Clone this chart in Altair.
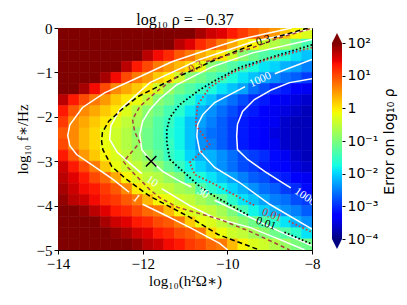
import altair as alt
import pandas as pd

# ---------------- data ----------------
X_CENTERS = [-13.875, -13.625, -13.375, -13.125, -12.875, -12.625, -12.375, -12.125,
             -11.875, -11.625, -11.375, -11.125, -10.875, -10.625, -10.375, -10.125,
             -9.875, -9.625, -9.375, -9.125, -8.875, -8.625, -8.375, -8.125]
Y_CENTERS = [-0.125, -0.375, -0.625, -0.875, -1.125, -1.375, -1.625, -1.875, -2.125, -2.375,
             -2.625, -2.875, -3.125, -3.375, -3.625, -3.875, -4.125, -4.375, -4.625, -4.875]
CELL = 0.25

# log10 of the error on log10 rho, one row per Y_CENTERS entry
LOG_ERR = [
    [2.4, 2.4, 2.4, 2.4, 2.4, 2.4, 2.4, 2.4, 2.4, 2.4, 2.4, 2.3, 2.0, 1.8, 1.6, 1.5, 1.3, 1.1, 0.9, 0.7, 0.5, 0.2, -0.1, -0.3],
    [2.4, 2.4, 2.4, 2.4, 2.4, 2.4, 2.4, 2.4, 2.4, 2.2, 2.0, 1.7, 1.5, 1.2, 1.0, 0.7, 0.4, 0.1, -0.1, -0.4, -0.6, -0.8, -1.1, -1.4],
    [2.4, 2.4, 2.4, 2.4, 2.4, 2.4, 2.3, 2.0, 1.7, 1.4, 1.2, 0.9, 0.7, 0.4, 0.2, 0.0, -0.4, -0.9, -1.1, -1.3, -1.5, -1.7, -1.9, -2.1],
    [2.4, 2.4, 2.4, 2.4, 2.3, 2.0, 1.7, 1.3, 1.0, 0.7, 0.5, 0.3, 0.1, -0.2, -0.9, -1.1, -1.3, -1.5, -1.7, -1.9, -2.0, -2.2, -2.3, -2.5],
    [2.4, 2.4, 2.3, 2.1, 1.8, 1.4, 1.0, 0.7, 0.5, 0.2, 0.0, -0.4, -0.9, -1.1, -1.3, -1.5, -1.7, -1.9, -2.1, -2.3, -2.4, -2.6, -2.7, -2.9],
    [2.4, 2.1, 1.8, 1.4, 1.0, 0.6, 0.4, 0.2, 0.0, -0.4, -0.8, -1.1, -1.3, -1.5, -1.7, -1.9, -2.1, -2.3, -2.6, -2.8, -3.0, -3.1, -3.3, -3.4],
    [1.7, 1.3, 1.0, 0.7, 0.5, 0.2, 0.0, -0.2, -0.5, -0.9, -1.1, -1.4, -1.6, -1.9, -2.1, -2.4, -2.6, -2.8, -3.0, -3.1, -3.3, -3.4, -3.5, -3.6],
    [1.3, 0.9, 0.6, 0.4, 0.2, 0.0, -0.3, -0.6, -0.9, -1.1, -1.4, -1.6, -1.9, -2.2, -2.4, -2.6, -2.8, -3.0, -3.1, -3.3, -3.4, -3.5, -3.6, -3.7],
    [1.1, 0.6, 0.4, 0.2, 0.0, -0.3, -0.5, -0.7, -1.0, -1.3, -1.5, -1.8, -2.1, -2.3, -2.5, -2.7, -2.9, -3.1, -3.2, -3.3, -3.4, -3.6, -3.7, -3.7],
    [0.9, 0.6, 0.3, 0.1, -0.2, -0.4, -0.6, -0.9, -1.1, -1.3, -1.6, -1.8, -2.1, -2.4, -2.6, -2.7, -2.9, -3.1, -3.2, -3.3, -3.5, -3.6, -3.7, -3.7],
    [1.0, 0.6, 0.3, 0.1, -0.2, -0.4, -0.6, -0.8, -1.1, -1.3, -1.5, -1.8, -2.1, -2.4, -2.5, -2.7, -2.9, -3.1, -3.2, -3.3, -3.4, -3.6, -3.7, -3.7],
    [1.3, 0.9, 0.5, 0.2, -0.1, -0.3, -0.5, -0.7, -0.9, -1.2, -1.5, -1.7, -2.0, -2.2, -2.2, -2.4, -2.6, -2.8, -2.9, -3.0, -3.2, -3.4, -3.6, -3.7],
    [1.6, 1.3, 1.0, 0.7, 0.2, -0.2, -0.4, -0.5, -0.7, -0.9, -1.2, -1.5, -1.8, -2.0, -2.2, -2.4, -2.6, -2.8, -2.9, -3.1, -3.2, -3.3, -3.5, -3.6],
    [1.7, 1.5, 1.3, 1.0, 0.8, 0.4, -0.1, -0.3, -0.5, -0.6, -0.8, -1.0, -1.5, -1.7, -1.9, -2.1, -2.3, -2.5, -2.7, -2.8, -3.0, -3.1, -3.3, -3.4],
    [1.8, 1.6, 1.4, 1.3, 1.1, 0.9, 0.6, 0.0, -0.2, -0.4, -0.5, -0.7, -0.8, -1.3, -1.6, -1.8, -2.0, -2.2, -2.4, -2.6, -2.7, -2.9, -3.0, -3.2],
    [1.9, 1.7, 1.6, 1.4, 1.2, 1.1, 0.9, 0.7, 0.3, -0.1, -0.2, -0.4, -0.5, -0.7, -0.9, -1.2, -1.6, -1.9, -2.1, -2.3, -2.5, -2.6, -2.8, -2.9],
    [2.3, 2.0, 1.9, 1.7, 1.5, 1.3, 1.2, 1.0, 0.8, 0.7, 0.3, -0.1, -0.3, -0.4, -0.5, -0.7, -1.0, -1.4, -1.8, -2.0, -2.2, -2.4, -2.5, -2.7],
    [2.4, 2.4, 2.2, 2.0, 1.8, 1.6, 1.5, 1.3, 1.2, 1.0, 0.9, 0.7, 0.2, -0.2, -0.3, -0.5, -0.7, -0.9, -1.1, -1.3, -1.6, -1.9, -2.2, -2.4],
    [2.4, 2.4, 2.4, 2.4, 2.1, 1.9, 1.8, 1.6, 1.5, 1.3, 1.2, 1.0, 0.9, 0.7, 0.1, -0.2, -0.4, -0.5, -0.7, -0.9, -1.1, -1.3, -1.6, -1.9],
    [2.4, 2.4, 2.4, 2.4, 2.4, 2.3, 2.1, 1.9, 1.7, 1.6, 1.4, 1.3, 1.1, 1.0, 0.8, 0.7, 0.3, -0.1, -0.3, -0.4, -0.6, -0.8, -1.0, -1.1],
]

# white SNR contours (segments broken where labels sit)
SNR1_A = [(-8.48, 0.0), (-9.71, -0.26), (-10.18, -0.40), (-11.31, -0.76), (-12.12, -1.12), (-12.9, -1.46),
          (-13.42, -1.79), (-13.72, -2.18), (-13.77, -2.42), (-13.72, -2.65), (-13.56, -2.85), (-13.25, -3.05),
          (-12.7, -3.41), (-12.32, -3.7)]
SNR1_B = [(-12.0, -3.97), (-11.5, -4.2), (-10.89, -4.49), (-10.18, -4.85), (-9.99, -5.0)]
SNR10_A = [(-8.0, -0.02), (-8.29, -0.08), (-9.4, -0.31), (-10.65, -0.71), (-11.83, -1.23), (-12.54, -1.84),
           (-12.75, -2.2), (-12.78, -2.51), (-12.6, -2.8), (-12.3, -3.05), (-12.02, -3.28)]
SNR10_B = [(-11.55, -3.62), (-10.89, -4.0), (-10.3, -4.28), (-9.47, -4.49), (-8.77, -4.76), (-8.17, -5.0)]
SNR30_A = [(-8.0, -0.26), (-9.4, -0.56), (-10.35, -0.87), (-11.2, -1.28), (-11.6, -1.6), (-11.83, -1.84),
           (-12.0, -2.1), (-12.07, -2.4), (-12.02, -2.74), (-11.83, -2.96), (-11.53, -3.23), (-11.13, -3.45),
           (-10.85, -3.58)]
SNR30_B = [(-10.3, -3.88), (-9.47, -4.26), (-8.77, -4.58), (-8.01, -4.9)]
SNR1000_A = [(-8.0, -0.71), (-8.64, -0.94), (-8.88, -1.03)]
SNR1000_B = [(-9.58, -1.32), (-10.3, -1.68), (-10.58, -1.95), (-10.7, -2.17), (-10.72, -2.44), (-10.65, -2.78),
             (-10.3, -3.14), (-9.71, -3.48), (-9.0, -3.97), (-8.0, -4.53)]
SNR10000 = [(-8.0, -1.14), (-8.53, -1.23), (-8.95, -1.39), (-9.36, -1.61), (-9.64, -1.88), (-9.76, -2.17),
            (-9.78, -2.44), (-9.76, -2.74), (-9.52, -2.96), (-9.12, -3.23), (-8.72, -3.47), (-8.5, -3.6)]

# black dashed: error = 0.3
ERR03_A = [(-8.1, 0.0), (-8.24, -0.04), (-8.9, -0.22)]
ERR03_B = [(-9.42, -0.38), (-10.18, -0.67), (-11.31, -1.16), (-12.12, -1.55), (-12.5, -1.84), (-12.8, -2.1),
           (-12.95, -2.35), (-12.97, -2.55), (-12.94, -2.74), (-12.73, -3.12), (-12.38, -3.41), (-11.83, -3.79),
           (-10.89, -4.26), (-10.22, -4.65), (-9.24, -5.0)]
# brown dashed: error = 0.3 (second estimate)
ALT03_A = [(-8.05, -0.02), (-8.77, -0.22), (-9.54, -0.49), (-10.35, -0.71), (-10.5, -0.76)]
ALT03_B = [(-11.05, -1.0), (-11.67, -1.43), (-12.07, -1.77), (-12.24, -2.06), (-12.19, -2.33), (-12.07, -2.58),
           (-12.31, -2.85), (-12.45, -3.01), (-12.35, -3.14), (-12.07, -3.41), (-11.83, -3.64), (-11.6, -3.82),
           (-11.17, -4.04), (-10.18, -4.31), (-9.47, -4.58), (-8.77, -4.89), (-8.53, -5.0)]
# black dotted: error = 0.01
ERR001_A = [(-8.0, -0.38), (-9.0, -0.67), (-9.71, -0.89), (-10.3, -1.19), (-10.65, -1.39), (-11.13, -1.73),
            (-11.36, -2.02), (-11.43, -2.3), (-11.43, -2.58), (-11.36, -2.96), (-10.65, -3.57), (-10.3, -3.79),
            (-9.87, -4.02), (-9.5, -4.22)]
ERR001_B = [(-8.65, -4.6), (-8.0, -4.87)]
# red dotted: error = 0.01 (second estimate)
ALT001_A = [(-8.0, -0.44), (-9.07, -0.71), (-9.87, -1.0), (-10.42, -1.34), (-10.7, -1.73), (-10.75, -2.18),
            (-10.42, -2.62), (-10.89, -3.03), (-10.77, -3.3), (-10.3, -3.52), (-9.71, -3.82), (-9.35, -4.0)]
ALT001_B = [(-8.55, -4.35), (-8.0, -4.6)]

# contour labels: text, x, y, angle, colour
LABEL_TEXT = ["1", "10", "30", "1000", "10000", "0.3", "0.01", "0.3", "0.01"]
LABEL_X = [-12.15, -11.78, -10.58, -9.22, -8.11, -9.15, -9.09, -10.75, -8.95]
LABEL_Y = [-3.84, -3.46, -3.72, -1.17, -3.84, -0.29, -4.41, -0.88, -4.22]
LABEL_ANGLE = [40, 33, 28, 335, 35, 343, 20, 332, 20]
LABEL_COLOR = ["white", "white", "white", "white", "white", "black", "black", "#a5403c", "#c83c3c"]

MARKER_X = [-11.8]
MARKER_Y = [-3.0]

CB_TICKS = [-4, -3, -2, -1, 0, 1, 2]
CB_LOW, CB_HIGH = -4, 2

# jet colour map (value in log10 error -> colour)
JET_VALUES = [-4.0, -3.34, -3.25, -1.96, -1.75, -0.16, -0.04, 1.34, 1.46, 2.0]
JET_COLORS = ["#000080", "#0000ff", "#0000ff", "#00dbff", "#15ffe2", "#eeff08", "#ffef00",
              "#ff1300", "#e80000", "#800000"]

SERIF = "Liberation Serif, DejaVu Serif, serif"
SANS = "DejaVu Sans, sans-serif"

# ---------------- tables ----------------
heat_rows = []
for yi, yc in enumerate(Y_CENTERS):
    for xi, xc in enumerate(X_CENTERS):
        heat_rows.append({"x": xc - CELL / 2, "x1": xc + CELL / 2,
                          "y": yc - CELL / 2, "y1": yc + CELL / 2, "v": LOG_ERR[yi][xi]})
heat_df = pd.DataFrame(heat_rows)


def seg_df(segs):
    rows = []
    for k, pts in enumerate(segs):
        for i, (x, y) in enumerate(pts):
            rows.append({"seg": k, "i": i, "x": x, "y": y})
    return pd.DataFrame(rows)


xscale = alt.Scale(domain=[-14, -8], nice=False, zero=False)
yscale = alt.Scale(domain=[-5, 0], nice=False, zero=False)
cmap = alt.Scale(domain=JET_VALUES, range=JET_COLORS, interpolate="rgb", clamp=True)

xaxis = alt.Axis(values=[-14, -12, -10, -8], format="d", title="log₁₀(h²Ω∗)", grid=False,
                 tickSize=4, labelPadding=2, labelFlush=False, labelOverlap=False,
                 labelFont=SERIF, labelFontSize=15, titleFont=SERIF, titleFontSize=15,
                 titleFontWeight="normal", titlePadding=2, orient="bottom")
yaxis = alt.Axis(values=[0, -1, -2, -3, -4, -5], format="d", title="log₁₀ f∗/Hz", grid=False,
                 tickSize=4, labelPadding=2, labelFlush=False, labelOverlap=False,
                 labelFont=SERIF, labelFontSize=15, titleFont=SERIF, titleFontSize=15,
                 titleFontWeight="normal", titlePadding=6, orient="left")

X_ENC = alt.X("x:Q", scale=xscale, axis=xaxis)
Y_ENC = alt.Y("y:Q", scale=yscale, axis=yaxis)

heat = alt.Chart(heat_df).mark_rect(clip=True, strokeWidth=0.6).encode(
    x=X_ENC,
    x2="x1:Q",
    y=Y_ENC,
    y2="y1:Q",
    color=alt.Color("v:Q", scale=cmap, legend=None),
    stroke=alt.Stroke("v:Q", scale=cmap, legend=None),
)


def line_layer(segs, color, width, dash=None):
    kw = dict(clip=True, color=color, strokeWidth=width, strokeCap="butt")
    if dash is not None:
        kw["strokeDash"] = dash
    return alt.Chart(seg_df(segs)).mark_line(**kw).encode(
        x=X_ENC, y=Y_ENC, detail="seg:N", order="i:Q",
    )


white = line_layer([SNR1_A, SNR1_B, SNR10_A, SNR10_B, SNR30_A, SNR30_B, SNR1000_A, SNR1000_B, SNR10000],
                   "white", 1.5)
bdash = line_layer([ERR03_A, ERR03_B], "black", 1.5, [5, 3])
rdash = line_layer([ALT03_A, ALT03_B], "#a5403c", 1.5, [4, 3])
bdot = line_layer([ERR001_A, ERR001_B], "black", 1.8, [1.6, 2.2])
rdot = line_layer([ALT001_A, ALT001_B], "#c83c3c", 1.8, [1.6, 2.2])

lab_df = pd.DataFrame({"t": LABEL_TEXT, "x": LABEL_X, "y": LABEL_Y, "a": LABEL_ANGLE, "c": LABEL_COLOR})
labels = alt.Chart(lab_df).mark_text(font=SERIF, fontSize=11.5, clip=True, baseline="middle",
                                     align="center").encode(
    x=X_ENC, y=Y_ENC,
    text="t:N",
    angle=alt.Angle("a:Q", scale=None),
    color=alt.Color("c:N", scale=None),
)

marker = alt.Chart(pd.DataFrame({"x": MARKER_X, "y": MARKER_Y})).mark_point(
    shape="M-1,-1L1,1M-1,1L1,-1", size=110, strokeWidth=1.5, color="black", filled=False, opacity=1
).encode(x=X_ENC, y=Y_ENC)

main = alt.layer(heat, white, bdash, rdash, bdot, rdot, labels, marker)

# ---------------- colour bar ----------------
cb_scale = alt.Scale(domain=[CB_LOW, CB_HIGH], range=[211, 15], nice=False, zero=False)
cb_label_expr = ("datum.value == 2 ? '10²' : datum.value == 1 ? '10¹' : datum.value == 0 ? '1' : "
                 "datum.value == -1 ? '10⁻¹' : datum.value == -2 ? '10⁻²' : "
                 "datum.value == -3 ? '10⁻³' : '10⁻⁴'")
cb_axis = alt.Axis(orient="right", offset=30, values=CB_TICKS, labelExpr=cb_label_expr, grid=False,
                   domain=False, tickSize=3, labelPadding=2, labelFlush=False, labelOverlap=False,
                   labelFont=SANS, labelFontSize=14, title="Error on log₁₀ ρ", titleFont=SANS,
                   titleFontSize=14, titleFontWeight="normal", titleAngle=270, titlePadding=19)
CB_ENC = alt.Y("c:Q", scale=cb_scale, axis=cb_axis)

stops = [alt.GradientStop(offset=(v - CB_LOW) / (CB_HIGH - CB_LOW), color=c)
         for v, c in zip(JET_VALUES, JET_COLORS)]
grad = alt.Gradient(gradient="linear", stops=stops, x1=0, x2=0, y1=1, y2=0)

cb_rect = alt.Chart(pd.DataFrame({"c": [CB_LOW], "c2": [CB_HIGH]})).mark_rect(color=grad).encode(
    x=alt.value(274), x2=alt.value(284),
    y=CB_ENC,
    y2="c2:Q",
)
cb_up = alt.Chart(pd.DataFrame({"c": [CB_HIGH + 0.15]})).mark_point(
    shape="M-1,1L1,1L0,-1Z", size=100, filled=True, fill="#800000", strokeWidth=0, opacity=1
).encode(x=alt.value(279), y=CB_ENC)
cb_down = alt.Chart(pd.DataFrame({"c": [CB_LOW - 0.15]})).mark_point(
    shape="M-1,-1L1,-1L0,1Z", size=100, filled=True, fill="#000080", strokeWidth=0, opacity=1
).encode(x=alt.value(279), y=CB_ENC)

cbar = alt.layer(cb_rect, cb_up, cb_down)

chart = alt.layer(main, cbar).resolve_scale(y="independent").resolve_axis(y="independent").properties(
    width=254, height=222,
    autosize="none",
    padding={"left": 50, "top": 20, "right": 87, "bottom": 47},
    title=alt.Title("log₁₀ ρ = −0.37", font=SERIF, fontSize=16, fontWeight="normal",
                    anchor="middle", offset=4, dy=11, color="black"),
).configure_view(stroke="black", strokeWidth=1).configure_axis(
    domainColor="black", tickColor="black", labelColor="black", titleColor="black"
)

chart.save("out.html", embed_options={"renderer": "svg", "actions": False})
